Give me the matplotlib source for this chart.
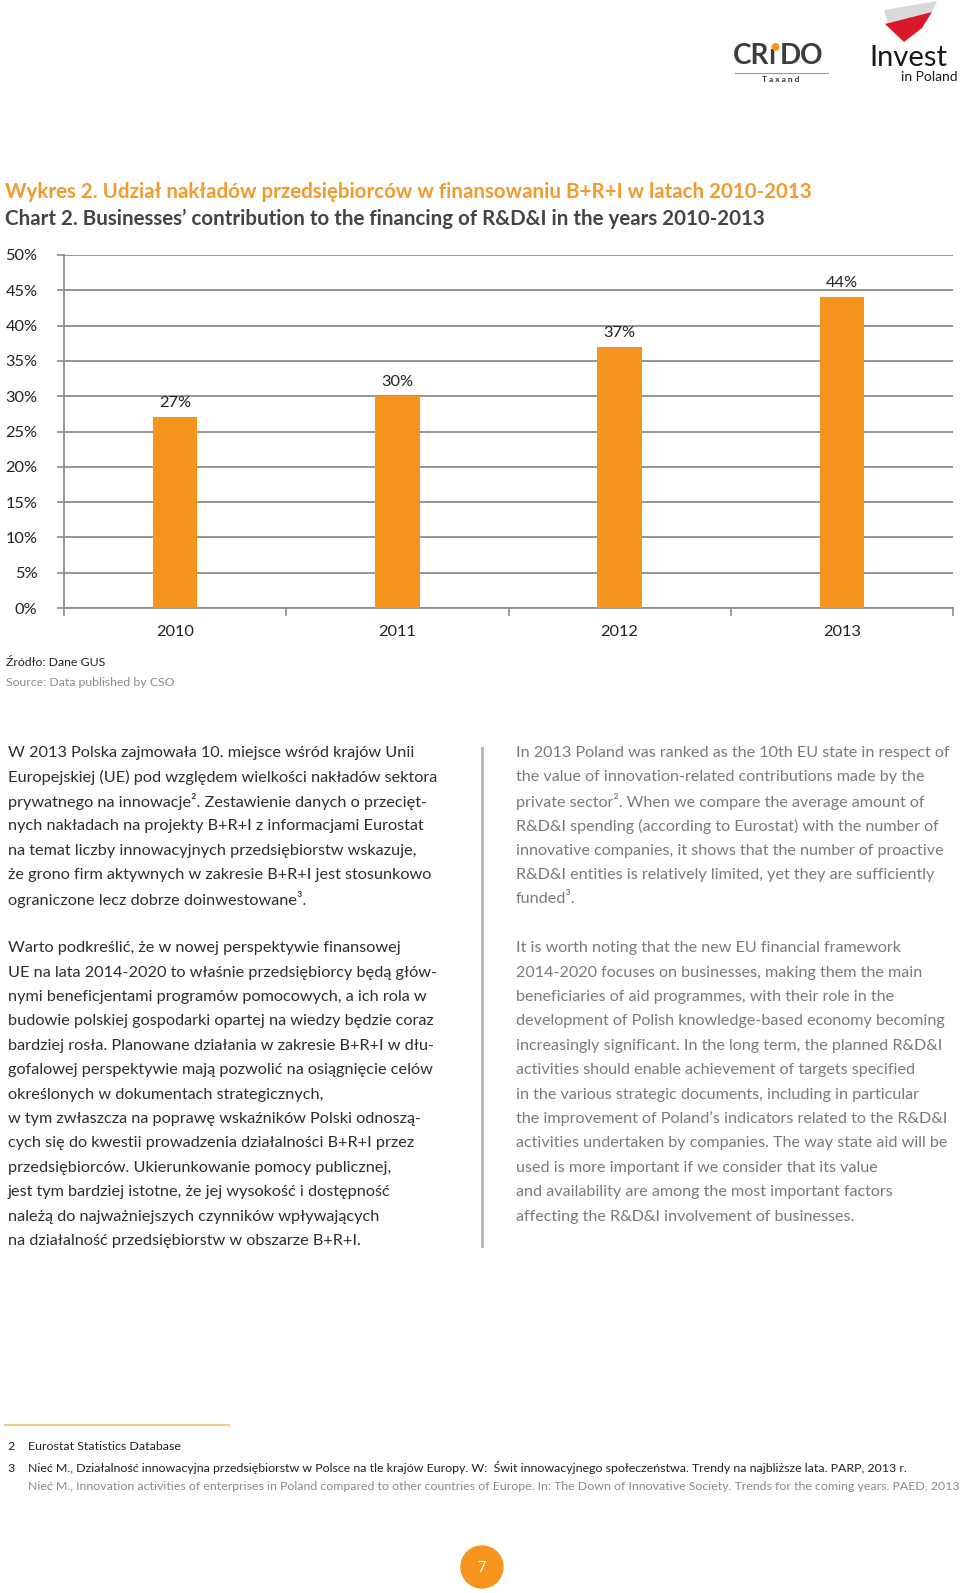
import matplotlib
matplotlib.use("Agg")
import matplotlib.pyplot as plt
from matplotlib.patches import Circle, Polygon
import numpy as np

plt.rcParams['font.family'] = ['Lato', 'DejaVu Sans']

# ---- data ----
years = ["2010", "2011", "2012", "2013"]
shares = [0.27, 0.30, 0.37, 0.44]
share_labels = ["27%", "30%", "37%", "44%"]
yticks = [0.0, 0.05, 0.10, 0.15, 0.20, 0.25, 0.30, 0.35, 0.40, 0.45, 0.50]
ytick_labels = ["0%", "5%", "10%", "15%", "20%", "25%", "30%", "35%", "40%", "45%", "50%"]

title_pl = "Wykres 2. Udział nakładów przedsiębiorców w finansowaniu B+R+I w latach 2010-2013"
title_en = "Chart 2. Businesses\u2019 contribution to the financing of R&D&I in the years 2010-2013"
source_pl = "Źródło: Dane GUS"
source_en = "Source: Data published by CSO"

left_col = [
    "W 2013 Polska zajmowała 10. miejsce wśród krajów Unii",
    "Europejskiej (UE) pod względem wielkości nakładów sektora",
    "prywatnego na innowacje². Zestawienie danych o przecięt-",
    "nych nakładach na projekty B+R+I z informacjami Eurostat",
    "na temat liczby innowacyjnych przedsiębiorstw wskazuje,",
    "że grono firm aktywnych w zakresie B+R+I jest stosunkowo",
    "ograniczone lecz dobrze doinwestowane³.",
    "",
    "Warto podkreślić, że w nowej perspektywie finansowej",
    "UE na lata 2014-2020 to właśnie przedsiębiorcy będą głów-",
    "nymi beneficjentami programów pomocowych, a ich rola w",
    "budowie polskiej gospodarki opartej na wiedzy będzie coraz",
    "bardziej rosła. Planowane działania w zakresie B+R+I w dłu-",
    "gofalowej perspektywie mają pozwolić na osiągnięcie celów",
    "określonych w dokumentach strategicznych,",
    "w tym zwłaszcza na poprawę wskaźników Polski odnoszą-",
    "cych się do kwestii prowadzenia działalności B+R+I przez",
    "przedsiębiorców. Ukierunkowanie pomocy publicznej,",
    "jest tym bardziej istotne, że jej wysokość i dostępność",
    "należą do najważniejszych czynników wpływających",
    "na działalność przedsiębiorstw w obszarze B+R+I.",
]
right_col = [
    "In 2013 Poland was ranked as the 10th EU state in respect of",
    "the value of innovation-related contributions made by the",
    "private sector². When we compare the average amount of",
    "R&D&I spending (according to Eurostat) with the number of",
    "innovative companies, it shows that the number of proactive",
    "R&D&I entities is relatively limited, yet they are sufficiently",
    "funded³.",
    "",
    "It is worth noting that the new EU financial framework",
    "2014-2020 focuses on businesses, making them the main",
    "beneficiaries of aid programmes, with their role in the",
    "development of Polish knowledge-based economy becoming",
    "increasingly significant. In the long term, the planned R&D&I",
    "activities should enable achievement of targets specified",
    "in the various strategic documents, including in particular",
    "the improvement of Poland\u2019s indicators related to the R&D&I",
    "activities undertaken by companies. The way state aid will be",
    "used is more important if we consider that its value",
    "and availability are among the most important factors",
    "affecting the R&D&I involvement of businesses.",
]
footnotes = [
    ("2", "Eurostat Statistics Database", "#222222"),
    ("3", "Nieć M., Działalność innowacyjna przedsiębiorstw w Polsce na tle krajów Europy. W:  Świt innowacyjnego społeczeństwa. Trendy na najbliższe lata. PARP, 2013 r.", "#222222"),
    ("", "Nieć M., Innovation activities of enterprises in Poland compared to other countries of Europe. In: The Down of Innovative Society. Trends for the coming years. PAED, 2013", "#8a8a8a"),
]
page_number = "7"

ORANGE = "#F7941D"
TITLE_ORANGE = "#F39A2B"
GRID = "#8c8c8c"

W, H = 960, 1593
fig = plt.figure(figsize=(W / 100, H / 100), dpi=100)
bg = fig.add_axes([0, 0, 1, 1])
bg.set_xlim(0, W)
bg.set_ylim(H, 0)
bg.axis("off")

def T(x, y, s, size, color="#222222", weight="normal", ha="left", **kw):
    bg.text(x, y, s, fontsize=size, color=color, fontweight=weight,
            ha=ha, va="center", **kw)

# ---- logos ----
T(733, 56, "CR", 20, color="#3d3d3d", weight="bold")
T(768, 56, "ı", 20, color="#3d3d3d", weight="bold")
bg.add_patch(Circle((775.5, 47), 3.2, color=ORANGE, zorder=5))
T(780, 56, "DO", 20, color="#3d3d3d", weight="bold")
bg.plot([735, 828], [72.5, 72.5], color="#9a9a9a", lw=0.8)
T(781, 79.5, "T a x a n d", 6, color="#333333", weight="bold", ha="center")
bg.add_patch(Polygon([(884, 10), (937, 1), (932, 12), (888, 24)], closed=True,
                     facecolor="#d9d9d9", edgecolor="none"))
bg.add_patch(Polygon([(885, 24), (932, 12), (922, 28), (904, 42)], closed=True,
                     facecolor="#d7192b", edgecolor="none"))
T(908, 58, "Invest", 21, color="#1a1a1a", ha="center")
T(958, 77, "in Poland", 10, color="#1a1a1a", ha="right")

# ---- titles ----
T(5, 192, title_pl, 14.8, color=TITLE_ORANGE, weight="bold")
T(5, 219, title_en, 14.8, color="#444444", weight="bold")

# ---- chart ----
ax = fig.add_axes([64 / W, 1 - 608 / H, 889 / W, 353 / H])
x = np.arange(len(years))
bars = ax.bar(x, shares, width=0.2, color=ORANGE, zorder=3)
for xi, v, lab in zip(x, shares, share_labels):
    ax.annotate(lab, (xi, v), xytext=(0, 5), textcoords="offset points",
                ha="center", va="bottom", fontsize=11.8, color="#222222")
ax.set_xlim(-0.5, len(years) - 0.5)
ax.set_ylim(0, 0.5)
ax.set_yticks(yticks)
ax.set_yticklabels(ytick_labels, fontsize=11.8, color="#222222")
ax.set_xticks(x)
ax.set_xticklabels(years, fontsize=11.8, color="#222222")
ax.set_xticks(np.arange(-0.5, len(years)), minor=True)
ax.tick_params(axis="x", which="major", length=0, pad=12)
ax.tick_params(axis="x", which="minor", length=6, width=1.2, color=GRID, direction="out")
ax.tick_params(axis="y", length=5, width=1.2, color=GRID, pad=14)
ax.yaxis.grid(True, color=GRID, lw=1.3, zorder=0)
ax.set_axisbelow(True)
for s in ["top", "right"]:
    ax.spines[s].set_visible(False)
for s in ["left", "bottom"]:
    ax.spines[s].set_color(GRID)
    ax.spines[s].set_linewidth(1.3)
ax.patch.set_alpha(0)

T(6, 663, source_pl, 8.8, color="#222222")
T(6, 683, source_en, 8.8, color="#8a8a8a")

# ---- body text ----
y0, dy = 753, 24.4
for i, line in enumerate(left_col):
    if line:
        T(8, y0 + i * dy, line, 11.7, color="#2e2e2e")
for i, line in enumerate(right_col):
    if line:
        T(516, y0 + i * dy, line, 11.6, color="#7a7a7a")
bg.plot([482, 482], [748, 1246], color="#b5b5b5", lw=2)

# ---- footnotes ----
bg.plot([5, 229], [1425, 1425], color="#F2CB92", lw=1.6)
fy = [1447, 1468, 1486]
for (num, txt, col), yy in zip(footnotes, fy):
    if num:
        T(7, yy, num, 8.9, color=col)
    T(28, yy, txt, 8.9, color=col)

# ---- page number ----
bg.add_patch(Circle((482, 1567), 21, color=ORANGE))
T(482, 1568, page_number, 10.5, color="white", ha="center")

fig.savefig("out.png", dpi=100)
